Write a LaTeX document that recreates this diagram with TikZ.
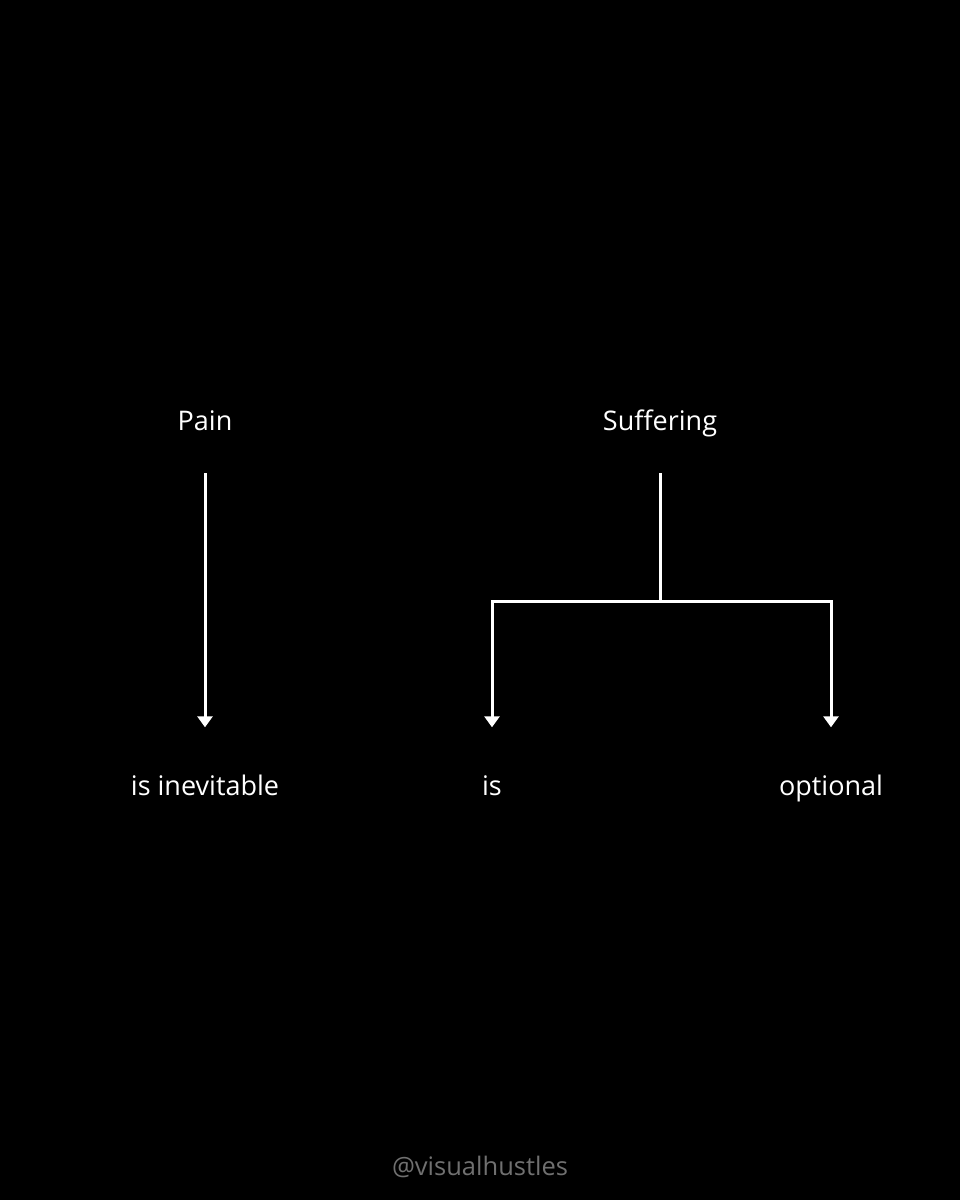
\documentclass[tikz,border=0pt]{standalone}
\usepackage{fontspec}
\setmainfont{Open Sans}
\usetikzlibrary{arrows.meta,positioning,calc}
\definecolor{markgray}{RGB}{112,112,112}

\begin{document}
\begin{tikzpicture}[x=1pt, y=-1pt,
    every node/.style={font=\fontsize{27}{32}\selectfont, text=white, inner sep=0pt, text height=19pt, text depth=6pt, align=center},
    watermark/.style={text=markgray, font=\fontsize{25.5}{30}\selectfont},
    arr/.style={-{Triangle[width=15pt, length=11pt]}, white, line width=3pt},
    link/.style={white, line width=3pt}
]
% background, fixes the page size
\fill[black] (0,0) rectangle (960,1200);

% Row 0 -- the two headings
\node (pain) at (205, 423.5) {Pain};
\node (suff) at (660, 423.5) {Suffering};

% Row 1 -- what follows
\node (inev) at (205, 788.5) {is inevitable};
\node (is)   at (492, 788.5) {is};
\node (opt)  at (831, 788.5) {optional};

% fork point under Suffering
\coordinate (fork) at (660, 601);

% handle at the bottom
\node[watermark] (tag) at (480, 1169) {@visualhustles};

% Arrows
\draw[arr, shorten <=37pt, shorten >=48.5pt] (pain) -- (inev);
\draw[link, shorten <=37pt] (suff) -- (fork);
\draw[arr, shorten >=48.5pt] (fork) -| (is);
\draw[arr, shorten >=48.5pt] (fork) -| (opt);
\end{tikzpicture}
\end{document}
